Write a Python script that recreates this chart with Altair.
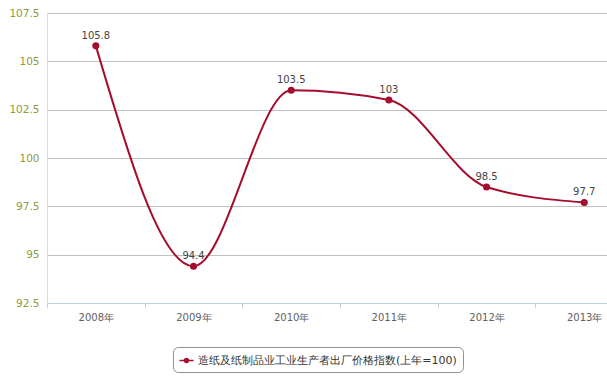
import altair as alt
import pandas as pd

years = ["2008年", "2009年", "2010年", "2011年", "2012年", "2013年"]
values = [105.8, 94.4, 103.5, 103.0, 98.5, 97.7]
labels = ["105.8", "94.4", "103.5", "103", "98.5", "97.7"]
series_name = "造纸及纸制品业工业生产者出厂价格指数(上年=100)"

df = pd.DataFrame({
    "idx": list(range(len(years))),
    "year": years,
    "value": values,
    "label": labels,
    "series": [series_name] * len(years),
})

FONT = "DejaVu Sans"
LINE = "#a50d2d"

x_enc = alt.X(
    "idx:Q",
    scale=alt.Scale(domain=[-0.5, 5.233], nice=False, zero=False),
    axis=alt.Axis(
        values=[-0.5, 0.5, 1.5, 2.5, 3.5, 4.5],
        labelExpr="['2008年','2009年','2010年','2011年','2012年','2013年'][round(datum.value+0.5)]",
        labelOffset=48.8,
        labelFlush=False,
        labelOverlap=False,
        labelBound=False,
        labelAlign="center",
        grid=False,
        domainColor="#c0d0e0",
        tickColor="#c0d0e0",
        tickSize=5,
        labelColor="#606060",
        labelFont=FONT,
        labelFontSize=10,
        labelPadding=4,
        title=None,
    ),
)
y_enc = alt.Y(
    "value:Q",
    scale=alt.Scale(domain=[92.5, 107.5], nice=False, zero=False),
    axis=alt.Axis(
        values=[92.5, 95, 97.5, 100, 102.5, 105, 107.5],
        labelExpr="format(datum.value, '~g')",
        grid=True,
        gridColor="#c0c0c0",
        domain=False,
        ticks=False,
        labelColor="#8f9a3a",
        labelFont=FONT,
        labelFontSize=10.5,
        labelPadding=8,
        title=None,
    ),
)

color_enc = alt.Color(
    "series:N",
    scale=alt.Scale(range=[LINE]),
    legend=alt.Legend(
        title=None,
        orient="none",
        legendX=126,
        legendY=334,
        strokeColor="#909090",
        cornerRadius=5,
        padding=6,
        labelFont=FONT,
        labelFontSize=11,
        labelColor="#333333",
        symbolType="M-1,-0.1L1,-0.1L1,0.1L-1,0.1Z M-0.4,0A0.4,0.4,0,1,1,0.4,0A0.4,0.4,0,1,1,-0.4,0Z",
        symbolSize=200,
        symbolFillColor=LINE,
        symbolStrokeWidth=0,
        labelLimit=400,
    ),
)

base = alt.Chart(df)
line = base.mark_line(interpolate="monotone", strokeWidth=2).encode(x=x_enc, y=y_enc, color=color_enc)
pts = base.mark_circle(size=50, opacity=1, color=LINE).encode(x="idx:Q", y="value:Q")
txt = base.mark_text(dy=-10, font=FONT, fontSize=10, color="#444444").encode(
    x="idx:Q", y="value:Q", text="label:N"
)

chart = (
    alt.layer(line, pts, txt)
    .properties(
        width=560,
        height=290,
        autosize=alt.AutoSizeParams(type="none"),
        padding={"left": 47, "top": 13, "right": 0, "bottom": 75},
    )
    .configure_view(stroke=None)
    .configure(background="white")
)

chart.save("out.html", embed_options={"renderer": "svg", "actions": False})
